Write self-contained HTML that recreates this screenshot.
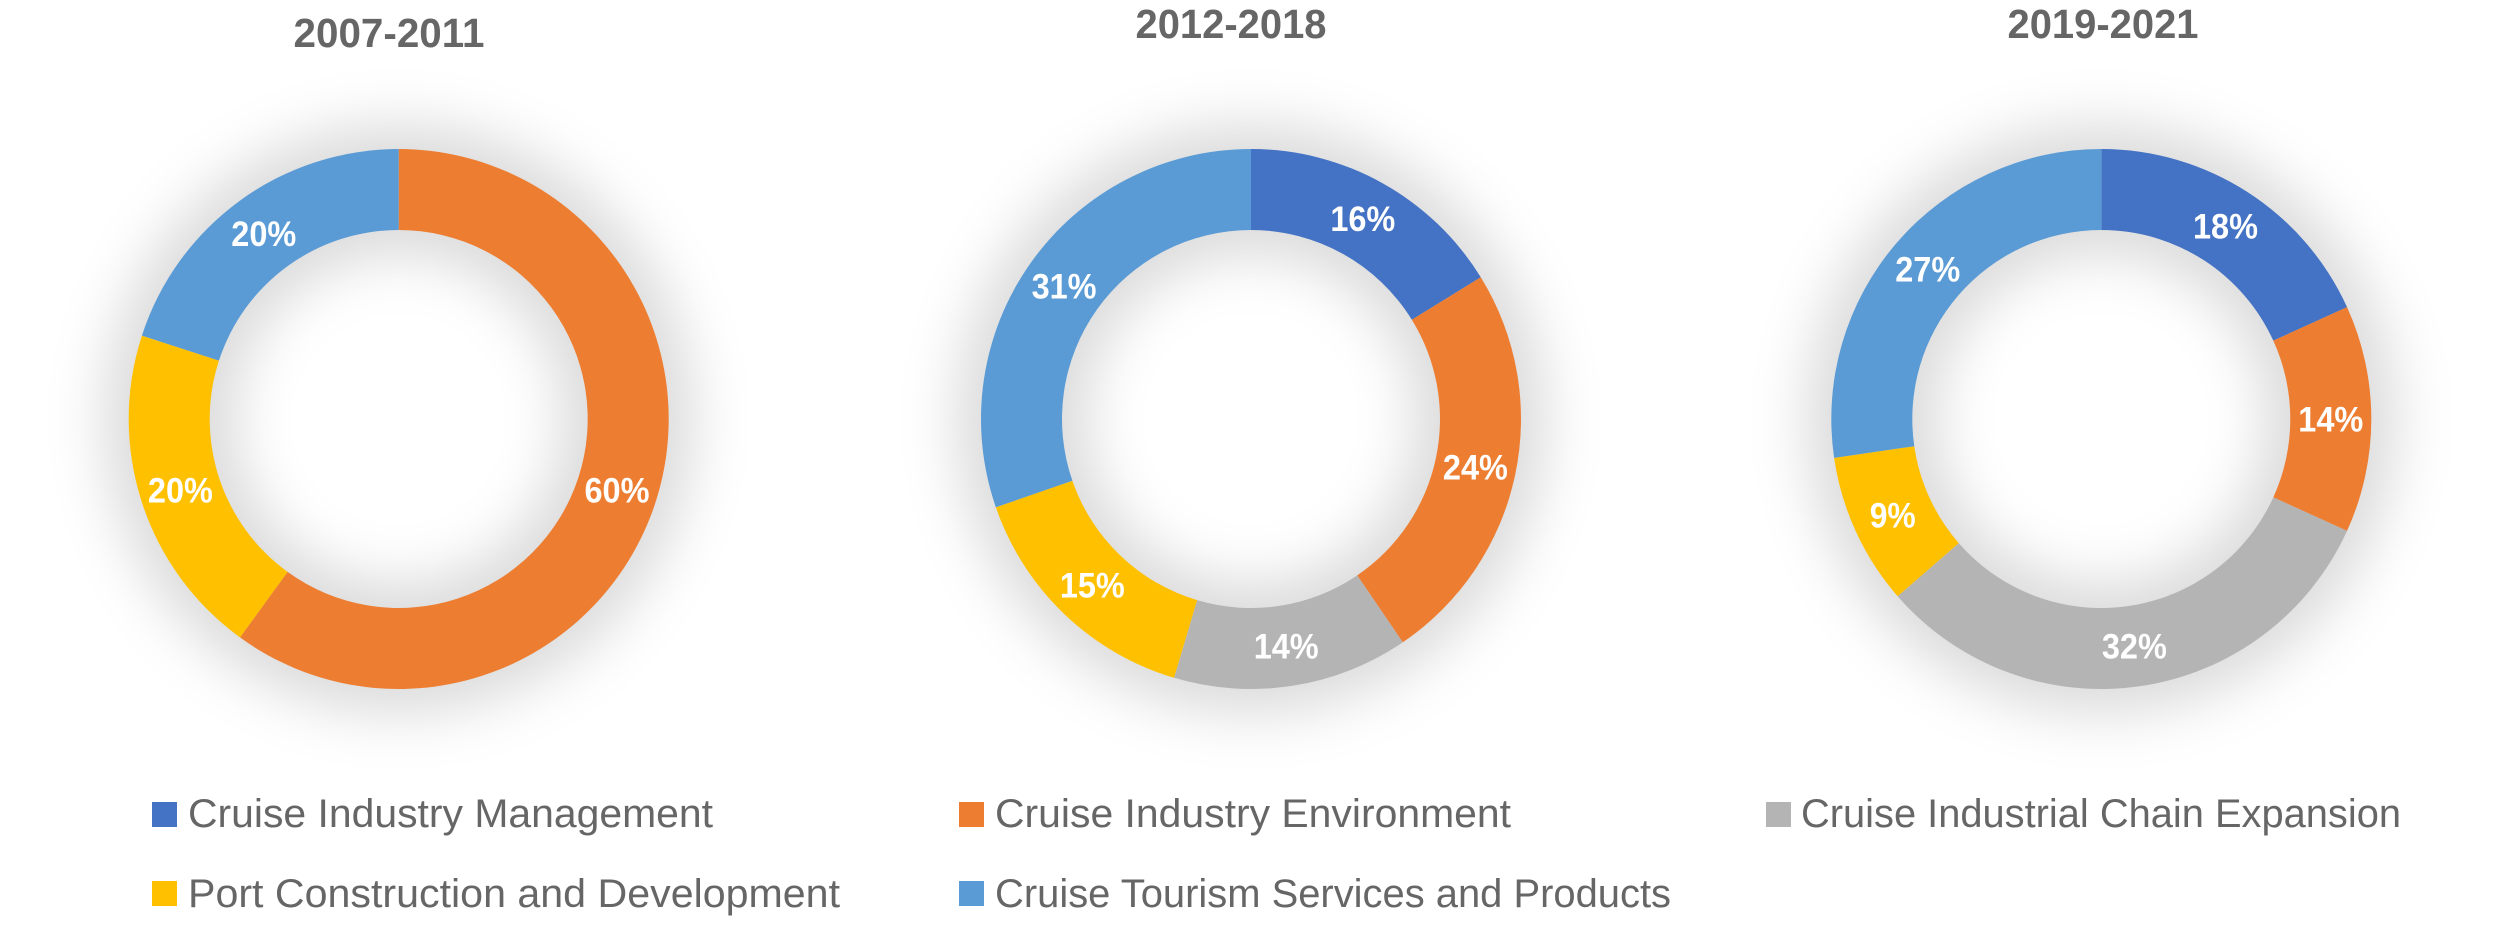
<!DOCTYPE html>
<html lang="en">
<head>
<meta charset="utf-8">
<title>Cruise research topics by period</title>
<style>
html,body{margin:0;padding:0;background:#fff;width:2500px;height:925px;overflow:hidden}
svg{display:block}
text{font-family:"Liberation Sans",sans-serif}
.title{font-weight:700;font-size:41px;fill:#666;text-anchor:middle}
.legend-text{font-size:40px;fill:#666}
.pct{font-weight:700;font-size:35px;fill:#fff;text-anchor:middle}
</style>
</head>
<body>
<svg id="chart" xmlns="http://www.w3.org/2000/svg" width="2500" height="925" viewBox="0 0 2500 925">
  <defs>
    <filter id="soft-shadow" x="-50%" y="-50%" width="200%" height="200%">
      <feGaussianBlur stdDeviation="28"/>
    </filter>
  </defs>
  <rect width="2500" height="925" fill="#fff"/>
  <g id="donuts"></g>
  <text class="title" x="389" y="47" textLength="191" lengthAdjust="spacingAndGlyphs">2007-2011</text>
  <text class="title" x="1231" y="38" textLength="191" lengthAdjust="spacingAndGlyphs">2012-2018</text>
  <text class="title" x="2103" y="38" textLength="191" lengthAdjust="spacingAndGlyphs">2019-2021</text>
  <g>
    <g>
      <rect x="152" y="802" width="25" height="25" fill="#4472C4"/>
      <text class="legend-text" x="188" y="827" textLength="525" lengthAdjust="spacingAndGlyphs">Cruise Industry Management</text>
    </g>
    <g>
      <rect x="959" y="802" width="25" height="25" fill="#ED7D31"/>
      <text class="legend-text" x="995" y="827" textLength="516" lengthAdjust="spacingAndGlyphs">Cruise Industry Environment</text>
    </g>
    <g>
      <rect x="1766" y="802" width="25" height="25" fill="#B4B4B4"/>
      <text class="legend-text" x="1801" y="827" textLength="600" lengthAdjust="spacingAndGlyphs">Cruise Industrial Chain Expansion</text>
    </g>
    <g>
      <rect x="152" y="881" width="25" height="25" fill="#FFC000"/>
      <text class="legend-text" x="188" y="907" textLength="652" lengthAdjust="spacingAndGlyphs">Port Construction and Development</text>
    </g>
    <g>
      <rect x="959" y="881" width="25" height="25" fill="#5B9BD5"/>
      <text class="legend-text" x="995" y="907" textLength="676" lengthAdjust="spacingAndGlyphs">Cruise Tourism Services and Products</text>
    </g>
  </g>
</svg>
<script>
// Share of each topic per period, in category order (slice sizes)
const categories = ["management", "environment", "chain-expansion", "port", "tourism"];
const period2007to2011 = [0, 60, 0, 20, 20];
const period2012to2018 = [16.2, 24.3, 14.1, 15.1, 30.3];
const period2019to2021 = [18.2, 13.6, 31.8, 9.1, 27.3];

// Percentages as printed on the slices
const printed2007to2011 = ["", "60%", "", "20%", "20%"];
const printed2012to2018 = ["16%", "24%", "14%", "15%", "31%"];
const printed2019to2021 = ["18%", "14%", "32%", "9%", "27%"];

const colors = ["#4472C4", "#ED7D31", "#B4B4B4", "#FFC000", "#5B9BD5"];
const periodValues = [period2007to2011, period2012to2018, period2019to2021];
const periodPrinted = [printed2007to2011, printed2012to2018, printed2019to2021];
const periodNames = ["2007-2011", "2012-2018", "2019-2021"];
const centerX = [398.7, 1251, 2101.3];
const centerY = 419;
const outerR = 270;
const innerR = 189;
const NS = "http://www.w3.org/2000/svg";
const root = document.getElementById("donuts");

function angleOf(share, total) {
  return (share / total) * 2 * Math.PI;
}
function polar(cx, cy, r, a) {
  return [cx + r * Math.sin(a), cy - r * Math.cos(a)];
}
function slicePath(cx, cy, a0, a1) {
  const large = a1 - a0 > Math.PI ? 1 : 0;
  const p0 = polar(cx, cy, outerR, a0);
  const p1 = polar(cx, cy, outerR, a1);
  const p2 = polar(cx, cy, innerR, a1);
  const p3 = polar(cx, cy, innerR, a0);
  return "M" + p0 + "A" + outerR + " " + outerR + " 0 " + large + " 1 " + p1 +
         "L" + p2 + "A" + innerR + " " + innerR + " 0 " + large + " 0 " + p3 + "Z";
}

periodValues.forEach(function (values, i) {
  const cx = centerX[i];
  const total = values.reduce(function (s, v) { return s + v; }, 0);

  const shadow = document.createElementNS(NS, "circle");
  
  
  shadow.setAttribute("cx", cx);
  shadow.setAttribute("cy", centerY);
  shadow.setAttribute("r", (outerR + innerR) / 2);
  shadow.setAttribute("fill", "none");
  shadow.setAttribute("stroke", "#000");
  shadow.setAttribute("stroke-opacity", "0.14");
  shadow.setAttribute("stroke-width", outerR - innerR + 50);
  shadow.setAttribute("filter", "url(#soft-shadow)");
  root.appendChild(shadow);

  let cum = 0;
  values.forEach(function (v, j) {
    if (v <= 0) return;
    const a0 = angleOf(cum, total);
    const a1 = angleOf(cum + v, total);
    cum += v;

    const slice = document.createElementNS(NS, "path");
    
    
    slice.setAttribute("d", slicePath(cx, centerY, a0, a1));
    slice.setAttribute("fill", colors[j]);
    root.appendChild(slice);
  });

  cum = 0;
  values.forEach(function (v, j) {
    if (v <= 0) return;
    const mid = angleOf(cum + v / 2, total);
    cum += v;
    const pos = polar(cx, centerY, (outerR + innerR) / 2, mid);
    const text = periodPrinted[i][j];

    const label = document.createElementNS(NS, "text");
    
    
    label.setAttribute("class", "pct");
    label.setAttribute("x", pos[0]);
    label.setAttribute("y", pos[1] + 12.5);
    label.setAttribute("textLength", text.length > 2 ? 65 : 46);
    label.setAttribute("lengthAdjust", "spacingAndGlyphs");
    label.textContent = text;
    root.appendChild(label);
  });
});
</script>
</body>
</html>
